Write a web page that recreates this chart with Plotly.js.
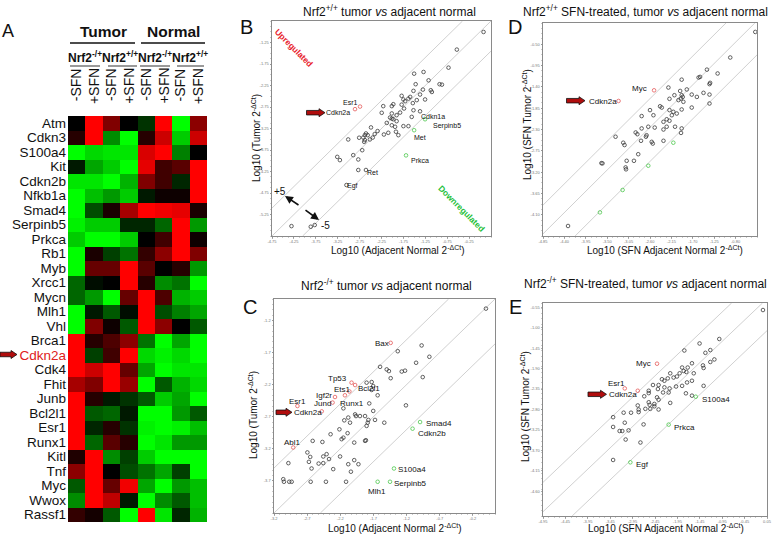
<!DOCTYPE html>
<html><head><meta charset="utf-8">
<script src="https://cdn.plot.ly/plotly-3.0.1.min.js"></script>
<style>html,body{margin:0;padding:0;background:#fff}#chart{width:778px;height:534px}</style>
</head><body><div id="chart"></div>
<script>
// ---------- DATA ----------
const genes = ['Atm','Cdkn3','S100a4','Kit','Cdkn2b','Nfkb1a','Smad4','Serpinb5','Prkca','Rb1','Myb','Xrcc1','Mycn','Mlh1','Vhl','Brca1','Cdkn2a','Cdk4','Fhit','Junb','Bcl2l1','Esr1','Runx1','Kitl','Tnf','Myc','Wwox','Rassf1'];
const colLabels = ['-SFN','+SFN','-SFN','+SFN','-SFN','+SFN','-SFN','+SFN'];
const genotypeLabels = ['Nrf2<sup>-/+</sup>','Nrf2<sup>+/+</sup>','Nrf2<sup>-/+</sup>','Nrf2<sup>+/+</sup>'];
const tissueLabels = ['Tumor','Normal'];
const heatZ = [
 [0,1,0.5,0,-0.2,1,-1,0.55],
 [0.15,1,-0.55,-1,0.15,0.8,-0.8,0.8],
 [-1,-0.85,-0.9,-0.9,0.85,1,-0.5,0],
 [-0.1,-0.65,-0.8,-1,0.9,0.25,0.35,1],
 [-0.9,-0.9,-1,-0.7,0.5,0.25,-0.15,1],
 [-1,-0.75,-0.6,-0.8,-0.1,0.05,0.05,1],
 [-1,-0.3,0.1,0.65,1,0.95,0.9,0.1],
 [-0.95,-0.8,-0.8,-0.15,-0.15,-0.4,1,-0.6],
 [-0.8,-1,-1,-0.8,0,0.25,1,0.05],
 [-1,0.1,-0.25,-0.45,0.2,0.55,1,0.5],
 [-1,0.4,0.4,1,0.35,0,0.15,-0.6],
 [-0.4,-0.05,0,1,0.15,-0.55,-0.45,-1],
 [-0.4,-0.6,-1,0.4,1,0.3,-0.7,-0.8],
 [-1,-0.1,-0.35,-0.05,1,-0.3,-0.5,-0.65],
 [-1,0.5,0.05,-0.35,1,0.55,0,-0.35],
 [1,0.15,0.3,0.55,-0.45,-1,-0.65,-1],
 [1,-0.25,0.25,1,-0.85,-0.95,-0.85,-1],
 [1,0.8,1,0.4,-0.65,-1,-0.9,-0.9],
 [0.65,0.5,1,0.6,-1,-0.35,-0.7,-0.85],
 [1,0.15,-0.1,-0.2,-0.35,-0.8,-0.65,-1],
 [1,-0.35,-0.4,-0.1,-1,-1,-0.6,-0.35],
 [1,-0.15,0.15,-0.2,-0.95,-1,-0.95,-0.75],
 [1,-0.4,0.35,0.15,-1,-0.9,-0.6,-0.6],
 [0.12,1,-0.55,-0.25,-0.8,-1,-1,-1],
 [0.55,1,0,-0.3,-0.45,-0.65,-0.25,-1],
 [-0.35,1,0.4,0.95,-0.65,-1,-0.6,-0.75],
 [-0.55,1,0.75,-0.1,-1,-0.55,-0.35,-0.75],
 [0.2,0.08,-0.35,-1,1,-0.9,-0.15,-0.7]
];

// Panel B: Nrf2+/+ tumor vs adjacent normal
const bX = [9.66,8.44,8.06,6.49,6.92,7.15,7.65,7.76,6.56,6.46,6.89,7.25,7.30,5.92,6.00,6.23,6.31,6.76,6.99,6.61,6.08,5.92,6.43,5.54,5.47,6.03,5.08,6.46,6.76,5.85,5.47,5.69,5.01,5.39,5.47,5.54,6.38,5.24,5.69,5.47,5.62,6.00,4.52,6.23,4.82,5.31,5.66,5.11,5.77,4.29,4.37,4.69,4.60,4.17,4.24,3.98,3.48,4.47,4.24,4.21,4.12,3.71,2.98,3.10,3.94,3.94,4.29,3.40,0.89,1.77,1.95];
const bY = [9.49,8.67,7.83,7.55,7.63,7.24,7.06,7.04,7.06,6.75,6.81,6.78,6.70,6.52,6.35,6.39,6.47,6.58,6.35,6.32,6.27,6.11,6.18,6.13,6.04,5.93,6.04,5.85,5.80,5.74,5.70,5.62,5.73,5.51,5.46,5.43,5.54,5.26,5.34,5.15,5.08,5.11,5.05,5.11,4.88,4.80,4.85,4.72,4.69,4.77,4.69,4.74,4.58,4.58,4.69,4.57,4.49,4.49,4.46,4.38,3.99,3.76,3.68,3.53,3.56,3.07,3.07,2.37,0.46,0.43,0.51];
const bUpX = [3.79,4.02], bUpY = [5.90,6.02];
const bDownX = [6.99,6.49,6.12], bDownY = [5.43,4.92,3.75];
const bDiag = [1.3,0,-1.4];

// Panel D: Nrf2+/+ SFN-treated
const dX = [9.92,8.75,7.66,8.16,7.27,7.34,6.48,7.81,7.78,5.86,6.41,6.72,6.95,7.19,7.50,7.78,6.14,6.48,6.53,6.44,5.91,6.33,6.56,7.78,5.55,5.47,6.95,6.48,5.00,5.16,5.91,6.09,6.25,6.02,5.78,5.91,5.63,4.61,5.22,4.92,4.61,5.78,6.17,5.63,6.48,6.45,4.33,4.41,4.84,4.81,4.58,5.08,5.13,5.63,3.39,3.75,3.81,4.45,4.25,3.91,3.86,3.88,2.73,2.78,1.17];
const dY = [9.58,8.38,7.81,7.63,7.44,7.47,7.34,7.19,7.13,6.97,6.81,6.88,6.64,6.53,6.72,6.64,6.61,6.61,6.53,6.45,6.44,6.38,6.30,6.22,6.03,6.09,6.03,5.94,5.91,5.67,5.91,5.83,5.75,5.67,5.48,5.41,5.36,5.63,5.09,5.13,5.05,5.13,5.13,5.00,5.05,4.84,4.86,4.78,4.73,4.66,4.47,4.42,4.34,4.47,4.66,4.38,4.27,3.84,3.53,3.53,3.22,3.13,3.42,3.41,0.47];
const dUpX = [5.19,3.53], dUpY = [6.84,6.34];
const dDownX = [6.09,4.92,3.72,2.66], dDownY = [4.38,3.30,2.16,1.11];
const dDiag = [1.45,0.1,-1.5];

// Panel C: Nrf2-/+ tumor vs adjacent normal
const cX = [9.59,6.68,5.60,7.03,6.43,4.80,5.10,5.20,5.78,5.93,5.28,6.73,4.19,4.42,4.49,4.42,4.69,4.31,5.97,4.49,3.14,3.67,3.71,3.36,3.89,4.12,3.18,3.44,4.27,4.24,4.57,4.99,4.19,2.96,3.33,2.56,3.06,3.14,3.63,4.16,4.12,1.75,2.19,1.51,2.38,2.23,1.64,1.58,2.49,2.99,2.02,2.23,3.63,3.82,3.36,1.70,2.68,3.48,0.65,0.42,0.45,0.69,0.80,1.66,2.35,3.26];
const cY = [9.55,7.83,7.56,7.30,7.02,6.83,6.71,6.63,6.61,6.65,6.30,6.35,6.09,6.12,5.93,5.75,5.50,5.12,5.03,4.77,4.89,4.61,4.53,4.46,4.53,4.53,4.33,4.22,4.35,4.22,4.35,4.22,4.07,3.91,3.73,3.68,3.45,3.52,3.29,3.40,3.37,3.37,3.32,2.83,2.75,2.64,2.62,2.39,2.52,2.64,2.31,2.33,2.47,2.28,2.28,2.08,2.05,1.93,2.33,1.58,1.46,1.46,1.46,1.46,1.46,1.46];
const cUpX = [5.28,3.51,3.67,3.41,3.21,2.76,2.65,1.06,2.16,0.87];
const cUpY = [7.95,6.09,5.98,5.68,5.50,5.42,5.16,5.00,4.75,3.06];
const cDownX = [6.61,6.27,5.43,5.25,4.69], cDownY = [4.25,3.94,2.08,1.46,1.46];
const cDiag = [2.1,0,-2.1];

// Panel E: Nrf2-/+ SFN-treated
const eX = [9.82,7.87,7.47,7.65,7.25,7.47,7.14,7.17,6.31,6.99,6.65,6.46,6.73,6.21,6.28,6.40,6.10,5.98,5.68,5.83,5.57,5.31,5.42,6.43,6.21,6.65,7.17,5.94,5.65,5.42,5.61,5.36,5.16,5.13,4.91,4.72,4.72,4.52,5.09,5.16,6.38,5.68,4.72,4.76,4.97,4.97,4.57,4.23,4.27,4.27,5.16,4.79,3.60,3.93,3.13,3.13,3.42,3.54,3.65,3.82,4.49,3.69,4.35,3.13,6.65];
const eY = [9.67,8.31,7.79,7.35,7.66,7.23,7.07,6.95,7.77,8.10,7.17,6.97,6.70,6.97,6.81,6.76,6.70,6.55,6.70,6.50,6.46,6.42,6.35,6.27,6.11,6.35,6.11,6.08,5.99,6.04,5.80,5.80,6.15,5.96,6.15,5.88,5.77,5.62,5.57,5.46,5.76,5.31,5.34,5.22,5.26,5.15,5.03,5.19,5.00,4.88,5.00,5.03,4.85,4.85,4.64,4.18,3.99,3.99,4.38,4.02,4.30,3.59,3.45,2.63,5.65];
const eUpX = [5.09,3.65,4.23], eUpY = [7.15,5.99,5.88];
const eDownX = [6.82,5.61,3.90], eDownY = [5.60,4.29,2.52];
const eDiag = [1.58,0.2,-1.3];

// tick labels (tiny in the reference)
const bXTicks = ['-4.75','-4.25','-3.75','-3.25','-2.75','-2.25','-1.75','-1.25','-0.75','-0.25'];
const bYTicks = ['-5.25','-4.75','-4.25','-3.75','-3.25','-2.75','-2.25','-1.75','-1.25'];
const dXTicks = ['-4.85','-4.40','-3.95','-3.50','-3.05','-2.60','-2.15','-1.70','-1.25','-0.80'];
const dYTicks = ['-4.10','-3.65','-3.20','-2.75','-2.30','-1.85','-1.40','-0.95','-0.50'];
const cXTicks = ['-3.2','-2.7','-2.2','-1.7','-1.2','-0.7','-0.2'];
const cYTicks = ['-3.7','-3.2','-2.7','-2.2','-1.7','-1.2'];
const eXTicks = ['-4.95','-4.45','-3.95','-3.45','-2.95','-2.45','-1.95','-1.45','-0.95','-0.45','0.05'];
const eYTicks = ['-4.60','-4.15','-3.70','-3.25','-2.80','-2.35','-1.90','-1.45','-1.00','-0.55'];

// ---------- LAYOUT HELPERS ----------
const W = 778, H = 534;
const FONT = 'Liberation Sans, Arial, Helvetica, sans-serif';
const px = x => x / W, py = y => 1 - y / H;

function ann(text, x, y, size, o) {
  o = o || {};
  return Object.assign({
    text: text, x: px(x), y: py(y), xref: 'paper', yref: 'paper', showarrow: false,
    font: {family: FONT, size: size, color: o.color || '#111', weight: o.weight || 'normal'},
    xanchor: o.xa || 'center', yanchor: o.ya || 'middle', textangle: o.angle || 0, borderpad: 0
  }, o.extra || {});
}
function blockArrow(x0, x1, yc) {
  const bh = 4.5, hh = 8, hl = 6;
  const pts = [[x0, yc - bh/2],[x1 - hl, yc - bh/2],[x1 - hl, yc - hh/2],[x1, yc],[x1 - hl, yc + hh/2],[x1 - hl, yc + bh/2],[x0, yc + bh/2]];
  const path = 'M ' + pts.map(p => px(p[0]).toFixed(5) + ',' + py(p[1]).toFixed(5)).join(' L ') + ' Z';
  return {type: 'path', xref: 'paper', yref: 'paper', path: path, fillcolor: '#b00d0d', line: {color: '#111', width: 0.8}};
}
function diagTraces(offsets, xa, ya) {
  return offsets.map(c => {
    const x0 = Math.max(0, -c), x1 = Math.min(10, 10 - c);
    return {type: 'scatter', mode: 'lines', x: [x0, x1], y: [x0 + c, x1 + c], xaxis: xa, yaxis: ya,
      line: {color: '#c4c4c4', width: 0.8}, hoverinfo: 'skip', showlegend: false};
  });
}
function pts(x, y, xa, ya, color) {
  return {type: 'scatter', mode: 'markers', x: x, y: y, xaxis: xa, yaxis: ya, showlegend: false,
    marker: {symbol: 'circle-open', size: 3.6, color: color, line: {width: 0.8, color: color}}};
}
function scatterAxis(domain, tickvals, ticktext) {
  return {domain: domain, range: [0, 10], showgrid: false, zeroline: false, showline: true, mirror: true,
    linecolor: '#8a8a8a', linewidth: 1, ticks: 'outside', ticklen: 1.5, tickwidth: 0.6, tickcolor: '#777',
    tickmode: 'array', tickvals: tickvals, ticktext: ticktext, ticklabelstandoff: 0,
    tickfont: {family: FONT, size: 4, color: '#777'}, fixedrange: true,
    minor: {ticks: 'outside', ticklen: 1, tickwidth: 0.5, tickcolor: '#999', dtick: 0.25, tick0: 0}};
}
const seq = (a, n, s) => Array.from({length: n}, (_, i) => +(a + i * s).toFixed(3));

// ---------- TRACES ----------
const traces = [];
traces.push({type: 'heatmap', z: heatZ, x: colLabels.map((_, i) => i), y: genes.map((_, i) => i),
  xaxis: 'x', yaxis: 'y', zmin: -1, zmax: 1, showscale: false, xgap: 0, ygap: 0,
  colorscale: [[0, '#00ff00'], [0.5, '#000000'], [1, '#ff0000']]});

const panels = [
  ['x2','y2', bDiag, bX, bY, bUpX, bUpY, bDownX, bDownY],
  ['x3','y3', dDiag, dX, dY, dUpX, dUpY, dDownX, dDownY],
  ['x4','y4', cDiag, cX, cY, cUpX, cUpY, cDownX, cDownY],
  ['x5','y5', eDiag, eX, eY, eUpX, eUpY, eDownX, eDownY]
];
panels.forEach(p => {
  diagTraces(p[2], p[0], p[1]).forEach(t => traces.push(t));
  traces.push(pts(p[3], p[4], p[0], p[1], '#3a3a3a'));
  traces.push(pts(p[5], p[6], p[0], p[1], '#e45a5a'));
  traces.push(pts(p[7], p[8], p[0], p[1], '#4cc84c'));
});

// ---------- ANNOTATIONS ----------
const A = [];
// Panel letters
A.push(ann('A', 8, 31, 18));
A.push(ann('B', 246, 27, 20));
A.push(ann('D', 515, 27, 20));
A.push(ann('C', 250, 307, 20));
A.push(ann('E', 515, 307, 20));
// Heatmap header
const hx0 = 68, hx1 = 207, cw = (hx1 - hx0) / 8;
A.push(ann(tissueLabels[0], 103, 31, 15.5, {weight: 'bold'}));
A.push(ann(tissueLabels[1], 173, 31, 15.5, {weight: 'bold'}));
genotypeLabels.forEach((g, i) => A.push(ann(g, hx0 + cw * (2 * i + 1), 57, 12, {weight: 'bold'})));
colLabels.forEach((c, i) => A.push(ann(c, hx0 + cw * (i + 0.5), 67, 14, {angle: -90, ya: 'top'})));
// Titles
A.push(ann('Nrf2<sup>+/+</sup> tumor <i>vs</i> adjacent normal', 390, 11, 12));
A.push(ann('Nrf2<sup>+/+</sup> SFN-treated, tumor <i>vs</i> adjacent normal', 645, 11, 12));
A.push(ann('Nrf2<sup>-/+</sup> tumor <i>vs</i> adjacent normal', 386, 285, 12));
A.push(ann('Nrf2<sup>-/+</sup> SFN-treated, tumor <i>vs</i> adjacent normal', 645, 283, 12));
// Axis titles
A.push(ann('Log10 (Adjacent Normal 2<sup>-ΔCt</sup>)', 398, 249.5, 10));
A.push(ann('Log10 (Tumor 2<sup>-ΔCt</sup>)', 256, 138, 10, {angle: -90}));
A.push(ann('Log10 (SFN Adjacent Normal 2<sup>-ΔCt</sup>)', 665, 250, 10));
A.push(ann('Log10 (SFN Tumor 2<sup>-ΔCt</sup>)', 527, 125, 10, {angle: -90}));
A.push(ann('Log10 (Adjacent Normal 2<sup>-ΔCt</sup>)', 395, 527.5, 10));
A.push(ann('Log10 (Tumor 2<sup>-ΔCt</sup>)', 253, 415, 10, {angle: -90}));
A.push(ann('Log10 (SFN Adjacent Normal 2<sup>-ΔCt</sup>)', 666, 527.5, 10));
A.push(ann('Log10 (SFN Tumor 2<sup>-ΔCt</sup>)', 525, 407, 10, {angle: -90}));
// Panel B labels
A.push(ann('Upregulated', 294, 48, 8.5, {angle: 45, color: '#e8202a', weight: 'bold'}));
A.push(ann('Downregulated', 461, 208, 8.5, {angle: 45, color: '#1fbf3a', weight: 'bold'}));
A.push(ann('Esr1', 350, 102, 7));
A.push(ann('Cdkn2a', 325, 113, 7, {xa: 'left'}));
A.push(ann('Cdkn1a', 420, 117, 7, {xa: 'left'}));
A.push(ann('Serpinb5', 432, 126, 7, {xa: 'left'}));
A.push(ann('Met', 413, 138, 7, {xa: 'left'}));
A.push(ann('Prkca', 410, 160, 7, {xa: 'left'}));
A.push(ann('Ret', 366, 172, 7, {xa: 'left'}));
A.push(ann('Egf', 346, 186, 7, {xa: 'left'}));
A.push(ann('+5', 280, 191, 10));
A.push(ann('-5', 325, 225, 10));
A.push({x: px(285), y: py(196), xref: 'paper', yref: 'paper', text: '', showarrow: true,
  ax: 15, ay: 10, arrowhead: 2, arrowsize: 1, arrowwidth: 1.6, arrowcolor: '#111'});
A.push({x: px(319), y: py(220), xref: 'paper', yref: 'paper', text: '', showarrow: true,
  ax: -15, ay: -11, arrowhead: 2, arrowsize: 1, arrowwidth: 1.6, arrowcolor: '#111'});
// Panel D labels
A.push(ann('Myc', 648, 89, 8, {xa: 'right'}));
A.push(ann('Cdkn2a', 588, 101, 8, {xa: 'left'}));
// Panel C labels
A.push(ann('Bax', 390, 343, 8, {xa: 'right'}));
A.push(ann('Tp53', 327, 378, 8, {xa: 'left'}));
A.push(ann('Ets1', 333, 389, 8, {xa: 'left'}));
A.push(ann('Bcl2l1', 357, 388, 8, {xa: 'left'}));
A.push(ann('Igf2r', 315, 395, 8, {xa: 'left'}));
A.push(ann('Jund', 313, 403, 8, {xa: 'left'}));
A.push(ann('Runx1', 339, 403, 8, {xa: 'left'}));
A.push(ann('Esr1', 288, 401, 8, {xa: 'left'}));
A.push(ann('Cdkn2a', 293, 412, 8, {xa: 'left'}));
A.push(ann('Abl1', 283, 442, 8, {xa: 'left'}));
A.push(ann('Smad4', 425, 423, 8, {xa: 'left'}));
A.push(ann('Cdkn2b', 417, 433, 8, {xa: 'left'}));
A.push(ann('S100a4', 397, 469, 8, {xa: 'left'}));
A.push(ann('Serpinb5', 393, 483, 8, {xa: 'left'}));
A.push(ann('Mlh1', 377, 491, 8));
// Panel E labels
A.push(ann('Myc', 652, 363, 8, {xa: 'right'}));
A.push(ann('Esr1', 607, 383, 8, {xa: 'left'}));
A.push(ann('Cdkn2a', 608, 394, 8, {xa: 'left'}));
A.push(ann('S100a4', 701, 399, 8, {xa: 'left'}));
A.push(ann('Prkca', 673, 427, 8, {xa: 'left'}));
A.push(ann('Egf', 635, 464, 8, {xa: 'left'}));

// ---------- SHAPES ----------
const S = [];
S.push({type: 'line', xref: 'paper', yref: 'paper', x0: px(70), x1: px(135), y0: py(43), y1: py(43), line: {color: '#111', width: 1.5}});
S.push({type: 'line', xref: 'paper', yref: 'paper', x0: px(141), x1: px(205), y0: py(43), y1: py(43), line: {color: '#111', width: 1.5}});
[[70, 100], [108, 137], [140, 170], [177, 204]].forEach(s =>
  S.push({type: 'line', xref: 'paper', yref: 'paper', x0: px(s[0]), x1: px(s[1]), y0: py(66), y1: py(66), line: {color: '#9a9a9a', width: 2}}));
S.push(blockArrow(0, 17, 354.5));
S.push(blockArrow(306.5, 325, 112.7));
S.push(blockArrow(566.5, 585, 100.7));
S.push(blockArrow(276, 292, 412.3));
S.push(blockArrow(588, 606.5, 394.3));

// ---------- LAYOUT ----------
const layout = {
  width: W, height: H, margin: {l: 0, r: 0, t: 0, b: 0}, paper_bgcolor: '#fff', plot_bgcolor: '#fff',
  showlegend: false, font: {family: FONT},
  xaxis: {domain: [px(hx0), px(hx1)], range: [-0.5, 7.5], showticklabels: false, showgrid: false, zeroline: false, ticks: '', fixedrange: true},
  yaxis: {domain: [py(522), py(116)], range: [27.5, -0.5], showgrid: false, zeroline: false, ticks: '', fixedrange: true,
    tickmode: 'array', tickvals: genes.map((_, i) => i),
    ticktext: genes.map(g => g === 'Cdkn2a' ? '<span style="color:#e02020">' + g + '</span>' : g),
    tickfont: {family: FONT, size: 13.5, color: '#111'}, ticklabelstandoff: 1},
  xaxis2: scatterAxis([px(272), px(491)], seq(0, 10, 1), bXTicks),
  yaxis2: Object.assign(scatterAxis([py(236), py(21)], seq(1, 9, 1), bYTicks), {anchor: 'x2'}),
  xaxis3: scatterAxis([px(543), px(757)], seq(0, 10, 1), dXTicks),
  yaxis3: Object.assign(scatterAxis([py(236), py(23)], seq(1, 9, 1), dYTicks), {anchor: 'x3'}),
  xaxis4: scatterAxis([px(274), px(495)], seq(0, 7, 1.5), cXTicks),
  yaxis4: Object.assign(scatterAxis([py(513), py(299)], seq(1.5, 6, 1.5), cYTicks), {anchor: 'x4'}),
  xaxis5: scatterAxis([px(543), px(767)], seq(0, 11, 1), eXTicks),
  yaxis5: Object.assign(scatterAxis([py(516), py(303)], seq(1.16, 10, 0.96), eYTicks), {anchor: 'x5'}),
  annotations: A, shapes: S
};
layout.xaxis2.anchor = 'y2'; layout.xaxis3.anchor = 'y3'; layout.xaxis4.anchor = 'y4'; layout.xaxis5.anchor = 'y5';

Plotly.newPlot('chart', traces, layout, {displayModeBar: false, staticPlot: true});
</script>
</body></html>
